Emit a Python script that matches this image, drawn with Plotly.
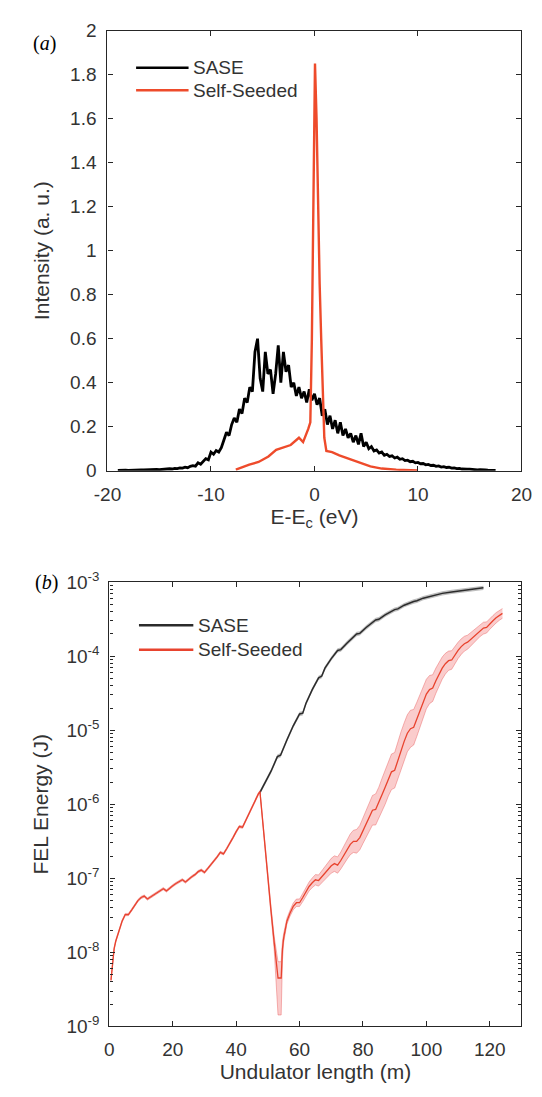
import numpy as np
import plotly.graph_objects as go

W, H = 542, 1097
FONT = "Liberation Sans, Arial, sans-serif"
INK = "#262626"
TXT = "#333333"
RED = "#EE4B2B"

# ---------------- panel (a): spectra ----------------
A_SASE_E = np.arange(-19.0, 17.5 + 1e-9, 0.25)
A_SASE_I = [
    0.002, 0.003, 0.002, 0.003,
    0.002, 0.003, 0.003, 0.004,
    0.003, 0.004, 0.004, 0.005,
    0.004, 0.006, 0.005, 0.006,
    0.005, 0.007, 0.006, 0.008,
    0.009, 0.008, 0.011, 0.010,
    0.013, 0.012, 0.016, 0.014,
    0.020, 0.023, 0.021, 0.036,
    0.030, 0.045, 0.055, 0.050,
    0.085, 0.075, 0.092, 0.085,
    0.105, 0.140, 0.175, 0.160,
    0.210, 0.240, 0.220, 0.280,
    0.260, 0.330, 0.310, 0.380,
    0.360, 0.540, 0.600, 0.420,
    0.360, 0.540, 0.440, 0.460,
    0.350, 0.440, 0.570, 0.400,
    0.540, 0.450, 0.480, 0.380,
    0.400, 0.340, 0.380, 0.330,
    0.360, 0.310, 0.370, 0.320,
    0.350, 0.300, 0.330, 0.250,
    0.280, 0.210, 0.250, 0.190,
    0.230, 0.170, 0.220, 0.160,
    0.190, 0.150, 0.170, 0.130,
    0.160, 0.120, 0.170, 0.110,
    0.130, 0.100, 0.110, 0.090,
    0.095, 0.080, 0.085, 0.070,
    0.075, 0.065, 0.068, 0.058,
    0.062, 0.052, 0.055, 0.046,
    0.048, 0.041, 0.043, 0.036,
    0.038, 0.032, 0.033, 0.027,
    0.029, 0.024, 0.025, 0.020,
    0.022, 0.017, 0.019, 0.015,
    0.016, 0.012, 0.013, 0.010,
    0.011, 0.008, 0.009, 0.007,
    0.007, 0.005, 0.006, 0.004,
    0.005, 0.003, 0.004, 0.003,
    0.003, 0.002, 0.002,
]
A_SEED_E = [-7.6, -6.3, -5.4, -4.45, -3.7, -2.3, -1.5, -1.1, -0.6, -0.4, -0.25,
            -0.1, 0.05, 0.2, 0.35, 0.5, 0.65, 0.8, 0.95, 1.15, 1.7, 2.4, 3.0,
            3.8, 4.5, 5.4, 6.5, 7.9, 10.0]
A_SEED_I = [0.005, 0.028, 0.04, 0.065, 0.095, 0.117, 0.15, 0.13, 0.19, 0.22, 0.6,
            1.3, 1.85, 1.6, 1.2, 0.85, 0.6, 0.35, 0.15, 0.09, 0.085, 0.07, 0.06,
            0.045, 0.035, 0.02, 0.01, 0.005, 0.001]
A_XTICKS = [-20, -10, 0, 10, 20]
A_XTICK_TEXT = ["-20", "-10", "0", "10", "20"]
A_YTICKS = [0, 0.2, 0.4, 0.6, 0.8, 1, 1.2, 1.4, 1.6, 1.8, 2]
A_YTICK_TEXT = ["0", "0.2", "0.4", "0.6", "0.8", "1", "1.2", "1.4", "1.6", "1.8", "2"]

# ---------------- panel (b): energy vs undulator length ----------------
B_SASE_Z = [47.5, 49, 51, 53, 54, 56, 58, 60, 61, 62, 64, 66, 67, 68, 70, 72, 73,
            75, 78, 79, 81, 84, 85, 87, 90, 91, 93, 96, 97, 99, 102, 103, 105,
            108, 109, 111, 114, 115, 117, 118]
B_SASE_P = [1.45e-6, 1.9e-6, 2.8e-6, 4.4e-6, 4.6e-6, 7.4e-6, 1.15e-5, 1.66e-5,
            1.70e-5, 2.3e-5, 3.55e-5, 5.1e-5, 5.4e-5, 6.9e-5, 9.3e-5, 1.2e-4,
            1.23e-4, 1.51e-4, 2.0e-4, 2.04e-4, 2.45e-4, 3.09e-4, 3.16e-4, 3.63e-4,
            4.27e-4, 4.37e-4, 4.9e-4, 5.5e-4, 5.62e-4, 6.1e-4, 6.6e-4, 6.68e-4,
            7.08e-4, 7.41e-4, 7.5e-4, 7.76e-4, 8.04e-4, 8.13e-4, 8.32e-4, 8.41e-4]
B_SASE_BAND = 1.07  # multiplicative half-width of the grey band

B_SEED_Z = ([0.5, 1, 1.5, 2] + list(range(3, 48)) + [47.5, 49, 50, 51, 52, 52.8,
            53.2, 54.2, 54.6, 55] + list(range(56, 125)))
B_SEED_P = [
    4.2e-9, 7.9e-9, 1.12e-8, 1.41e-8,
    2.0e-8, 2.63e-8, 3.24e-8, 3.24e-8, 3.72e-8, 4.37e-8, 5.0e-8, 5.5e-8, 5.75e-8,
    5.25e-8, 5.62e-8, 6.03e-8, 6.46e-8, 6.92e-8, 7.24e-8, 6.76e-8, 7.41e-8,
    7.94e-8, 8.51e-8, 9.12e-8, 9.55e-8, 8.91e-8, 9.77e-8, 1.05e-7, 1.12e-7,
    1.23e-7, 1.29e-7, 1.20e-7, 1.35e-7, 1.51e-7, 1.70e-7, 1.95e-7, 2.24e-7,
    2.14e-7, 2.51e-7, 2.95e-7, 3.55e-7, 4.27e-7, 5.01e-7, 4.90e-7, 6.03e-7,
    7.41e-7, 9.12e-7, 1.15e-6, 1.38e-6,
    1.48e-6, 2.7e-7, 1.0e-7, 3.6e-8, 1.35e-8, 6.5e-9, 4.5e-9, 4.5e-9, 1.12e-8,
    1.58e-8,
    2.63e-8, 3.39e-8, 4.17e-8, 4.68e-8, 4.68e-8, 5.5e-8, 6.6e-8, 7.76e-8, 8.7e-8,
    9.55e-8, 9.33e-8, 1.05e-7, 1.17e-7, 1.32e-7, 1.48e-7, 1.58e-7, 1.51e-7,
    1.74e-7, 2.09e-7, 2.45e-7, 2.88e-7, 3.16e-7, 3.16e-7, 3.55e-7, 4.37e-7,
    5.37e-7, 6.76e-7, 8.32e-7, 8.51e-7, 1.05e-6, 1.35e-6, 1.70e-6, 2.19e-6,
    2.75e-6, 2.88e-6, 3.98e-6, 5.37e-6, 7.08e-6, 9.12e-6, 1.05e-5, 1.10e-5,
    1.41e-5, 1.86e-5, 2.45e-5, 3.09e-5, 3.55e-5, 3.72e-5, 4.68e-5, 5.75e-5,
    6.92e-5, 7.94e-5, 8.71e-5, 8.91e-5, 1.05e-4, 1.20e-4, 1.35e-4, 1.48e-4,
    1.55e-4, 1.70e-4, 1.86e-4, 2.04e-4, 2.24e-4, 2.40e-4, 2.45e-4, 2.75e-4,
    3.02e-4, 3.31e-4, 3.55e-4, 3.80e-4,
]
# band half-widths in decades (upper / lower)
B_SEED_UP_DEC = ([0.015] * 50 + [0.03, 0.04, 0.05, 0.08, 0.15, 0.22, 0.22, 0.10, 0.06] +
                 [0.04, 0.04, 0.045, 0.05, 0.05, 0.055, 0.06, 0.06, 0.065, 0.07,
                  0.075, 0.08, 0.085, 0.09, 0.10, 0.105, 0.11, 0.115, 0.12, 0.13,
                  0.14, 0.15, 0.16, 0.165, 0.17, 0.18, 0.19, 0.20, 0.21, 0.21,
                  0.22, 0.23, 0.23, 0.24, 0.24, 0.25, 0.25, 0.25, 0.25, 0.25,
                  0.24, 0.23, 0.22, 0.21, 0.20, 0.19, 0.18, 0.17, 0.16, 0.15,
                  0.14, 0.13, 0.125, 0.12, 0.11, 0.105, 0.10, 0.095, 0.09, 0.085,
                  0.085, 0.08, 0.08, 0.075, 0.075, 0.07, 0.07, 0.065, 0.065])
B_SEED_DN_DEC = ([0.015] * 50 + [0.03, 0.04, 0.05, 0.10, 0.30, 0.50, 0.50, 0.15, 0.06] +
                 B_SEED_UP_DEC[59:])

B_XTICKS = [0, 20, 40, 60, 80, 100, 120]
B_YTICKS = [1e-9, 1e-8, 1e-7, 1e-6, 1e-5, 1e-4, 1e-3]
B_YTICK_TEXT = ["10<sup>-9</sup>", "10<sup>-8</sup>", "10<sup>-7</sup>", "10<sup>-6</sup>",
                "10<sup>-5</sup>", "10<sup>-4</sup>", "10<sup>-3</sup>"]


def px_x(p):
    return p / W


def px_y(p):
    return 1 - p / H


fig = go.Figure()

# panel (a)
fig.add_trace(go.Scatter(x=A_SASE_E, y=A_SASE_I, mode="lines", name="SASE",
                         line=dict(color="black", width=2.8), xaxis="x", yaxis="y",
                         showlegend=False))
fig.add_trace(go.Scatter(x=A_SEED_E, y=A_SEED_I, mode="lines", name="Self-Seeded",
                         line=dict(color=RED, width=2.4), xaxis="x", yaxis="y",
                         showlegend=False))

# panel (b) SASE band + line
sase_hi = [p * B_SASE_BAND for p in B_SASE_P]
sase_lo = [p / B_SASE_BAND for p in B_SASE_P]
fig.add_trace(go.Scatter(x=B_SASE_Z, y=sase_hi, mode="lines", line=dict(width=0, color="rgba(0,0,0,0)"),
                         xaxis="x2", yaxis="y2", showlegend=False, hoverinfo="skip"))
fig.add_trace(go.Scatter(x=B_SASE_Z, y=sase_lo, mode="lines", line=dict(width=0, color="rgba(0,0,0,0)"),
                         fill="tonexty", fillcolor="rgba(110,110,110,0.45)",
                         xaxis="x2", yaxis="y2", showlegend=False, hoverinfo="skip"))
fig.add_trace(go.Scatter(x=B_SASE_Z, y=B_SASE_P, mode="lines", name="SASE",
                         line=dict(color="#2b2b2b", width=1.5), xaxis="x2", yaxis="y2",
                         showlegend=False))

# panel (b) self-seeded band + line
seed_hi = [p * 10 ** u for p, u in zip(B_SEED_P, B_SEED_UP_DEC)]
seed_lo = [p / 10 ** d for p, d in zip(B_SEED_P, B_SEED_DN_DEC)]
fig.add_trace(go.Scatter(x=B_SEED_Z, y=seed_hi, mode="lines",
                         line=dict(width=0.8, color="rgba(232,90,90,0.55)"),
                         xaxis="x2", yaxis="y2", showlegend=False, hoverinfo="skip"))
fig.add_trace(go.Scatter(x=B_SEED_Z, y=seed_lo, mode="lines",
                         line=dict(width=0.8, color="rgba(232,90,90,0.55)"),
                         fill="tonexty", fillcolor="rgba(242,120,120,0.38)",
                         xaxis="x2", yaxis="y2", showlegend=False, hoverinfo="skip"))
fig.add_trace(go.Scatter(x=B_SEED_Z, y=B_SEED_P, mode="lines", name="Self-Seeded",
                         line=dict(color="#E8432E", width=1.3), xaxis="x2", yaxis="y2",
                         showlegend=False))

common = dict(showline=True, linecolor=INK, linewidth=1.3, mirror="ticks", ticks="inside",
              ticklen=5, tickcolor=INK, tickwidth=1.2, showgrid=False, zeroline=False,
              ticklabeloverflow="allow",
              tickfont=dict(family=FONT, size=19, color=TXT),
              title_font=dict(family=FONT, size=21, color=TXT))

fig.update_layout(
    width=W, height=H, margin=dict(l=0, r=0, t=0, b=0),
    paper_bgcolor="white", plot_bgcolor="white", showlegend=False,
    xaxis=dict(common, domain=[px_x(98), px_x(532)], anchor="y", range=[-20, 20],
               tickmode="array", tickvals=A_XTICKS, ticktext=A_XTICK_TEXT,
               ticklabelstandoff=6,
               title=dict(text="E-E<sub>c</sub> (eV)", standoff=4)),
    yaxis=dict(common, domain=[px_y(468), px_y(18)], anchor="x", range=[0, 2],
               tickmode="array", tickvals=A_YTICKS, ticktext=A_YTICK_TEXT,
               ticklabelstandoff=6,
               title=dict(text="Intensity (a. u.)", standoff=14)),
    xaxis2=dict(common, domain=[px_x(100), px_x(532)], anchor="y2", range=[0, 130],
                tickmode="array", tickvals=B_XTICKS, ticklabelstandoff=6,
                title=dict(text="Undulator length (m)", standoff=4)),
    yaxis2=dict(common, domain=[px_y(1036), px_y(582)], anchor="x2", type="log",
                range=[-9, -3], tickmode="array", tickvals=B_YTICKS, ticktext=B_YTICK_TEXT,
                ticklabelstandoff=5,
                minor=dict(ticks="inside", ticklen=3, tickcolor=INK, dtick="D1",
                           tickmode="linear", showgrid=False),
                title=dict(text="FEL Energy (J)", standoff=12)),
)

# panel labels
fig.add_annotation(x=px_x(18), y=px_y(17), xref="paper", yref="paper", showarrow=False,
                   text="(<i>a</i>)", font=dict(family="Liberation Serif, Times New Roman, serif",
                                                 size=20, color="black"))
fig.add_annotation(x=px_x(20), y=px_y(582), xref="paper", yref="paper", showarrow=False,
                   text="(<i>b</i>)", font=dict(family="Liberation Serif, Times New Roman, serif",
                                                 size=20, color="black"))

# legends (drawn inside each panel)
LEG = [
    (128, 183, 56, "SASE", "black", 2.6),
    (128, 183, 79, "Self-Seeded", RED, 2.6),
    (131, 188, 626, "SASE", "#2b2b2b", 2.6),
    (131, 188, 651, "Self-Seeded", "#E8432E", 2.6),
]
for x0, x1, yy, label, col, lw in LEG:
    fig.add_shape(type="line", xref="paper", yref="paper", x0=px_x(x0), x1=px_x(x1),
                  y0=px_y(yy), y1=px_y(yy), line=dict(color=col, width=lw))
    fig.add_annotation(x=px_x(x1 + 4), y=px_y(yy), xref="paper", yref="paper",
                       xanchor="left", yanchor="middle", showarrow=False, text=label,
                       borderpad=0, font=dict(family=FONT, size=19, color=TXT))

fig.write_html("out.html")
